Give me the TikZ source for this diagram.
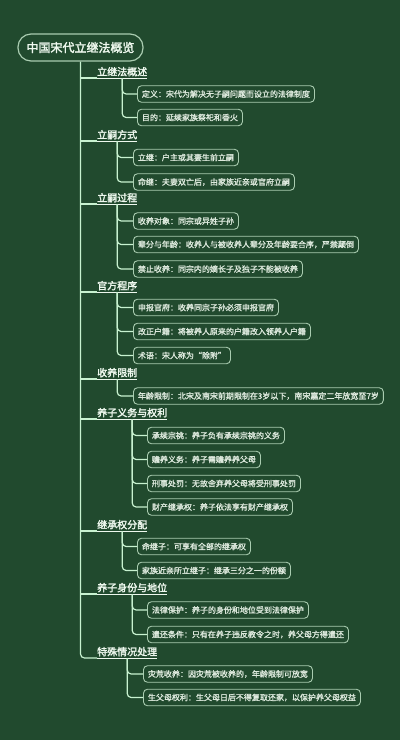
\documentclass[tikz,border=0pt]{standalone}
\usepackage{fontspec}
\newfontfamily\cjk{Noto Sans CJK SC}[FakeBold=2.2]
\newfontfamily\cjkl{Noto Sans CJK SC}[FakeBold=1.5]
\definecolor{bgc}{HTML}{214A2E}
\definecolor{linec}{HTML}{C8F2D0}
\definecolor{boxc}{HTML}{A9CCB0}
\definecolor{textc}{HTML}{DDE9DD}
\definecolor{headc}{HTML}{EEF8EE}
\tikzset{
  rootbox/.style={draw=boxc, line width=1.2pt, rounded corners=13pt, minimum width=125pt, minimum height=27pt, inner sep=0pt, text=headc, font=\cjk\fontsize{12}{12}\selectfont},
  headnode/.style={anchor=south west, inner xsep=0pt, inner ysep=1.5pt, text=headc, font=\cjk\fontsize{10}{10}\selectfont},
  uline/.style={draw=headc, line width=0.9pt},
  leaf/.style={anchor=west, draw=boxc, line width=0.9pt, rounded corners=4pt, minimum height=16.5pt, inner xsep=4.5pt, inner ysep=0pt, text=textc, font=\cjkl\fontsize{8}{8}\selectfont},
  conn/.style={draw=linec, line width=1.2pt},
  sub/.style={conn, rounded corners=4pt}
}
\begin{document}
\begin{tikzpicture}[x=1pt,y=-1pt]
\fill[bgc] (0,0) rectangle (400,740);
\useasboundingbox (0,0) rectangle (400,740);

\node[rootbox] (root) at (80.5,47.5) {中国宋代立继法概览};

% headings
\node[headnode] (h1) at (97,78) {立继法概述};
\node[headnode] (h2) at (97,141) {立嗣方式};
\node[headnode] (h3) at (97,204) {立嗣过程};
\node[headnode] (h4) at (97,292) {官方程序};
\node[headnode] (h5) at (97,379) {收养限制};
\node[headnode] (h6) at (97,419) {养子义务与权利};
\node[headnode] (h7) at (97,531) {继承权分配};
\node[headnode] (h8) at (97,594) {养子身份与地位};
\node[headnode] (h9) at (97,658) {特殊情况处理};
\foreach \h in {h1,h2,h3,h4,h5,h6,h7,h8,h9}{
  \draw[uline] (\h.south west) -- (\h.south east);
}

% main connectors
\draw[conn, rounded corners=4pt] (root.south) |- (h9.south west);
\foreach \h in {h1,h2,h3,h4,h5,h6,h7,h8}{
  \draw[conn] (root.south |- \h.south west) -- (\h.south west);
}

% leaves
\node[leaf] (c11) at (137,94) {定义：宋代为解决无子嗣问题而设立的法律制度};
\node[leaf] (c12) at (137,117.5) {目的：延续家族祭祀和香火};
\node[leaf] (c21) at (133,157.5) {立继：户主或其妻生前立嗣};
\node[leaf] (c22) at (133,182) {命继：夫妻双亡后，由家族近亲或官府立嗣};
\node[leaf] (c31) at (133,221) {收养对象：同宗或异姓子孙};
\node[leaf] (c32) at (133,244.5) {辈分与年龄：收养人与被收养人辈分及年龄要合序，严禁颠倒};
\node[leaf] (c33) at (133,269) {禁止收养：同宗内的嫡长子及独子不能被收养};
\node[leaf] (c41) at (133,307.5) {申报官府：收养同宗子孙必须申报官府};
\node[leaf] (c42) at (133,331.5) {改正户籍：将被养人原来的户籍改入领养人户籍};
\node[leaf] (c43) at (133,355.5) {术语：宋人称为“除附”};
\node[leaf] (c51) at (133,396) {年龄限制：北宋及南宋前期限制在3岁以下，南宋嘉定二年放宽至7岁};
\node[leaf] (c61) at (147,435.5) {承续宗祧：养子负有承续宗祧的义务};
\node[leaf] (c62) at (147,459.5) {赡养义务：养子需赡养养父母};
\node[leaf] (c63) at (147,483.5) {刑事处罚：无故舍弃养父母将受刑事处罚};
\node[leaf] (c64) at (147,507) {财产继承权：养子依法享有财产继承权};
\node[leaf] (c71) at (137,546.5) {命继子：可享有全部的继承权};
\node[leaf] (c72) at (137,570.5) {家族近亲所立继子：继承三分之一的份额};
\node[leaf] (c81) at (147,610) {法律保护：养子的身份和地位受到法律保护};
\node[leaf] (c82) at (147,634.5) {遣还条件：只有在养子违反教令之时，养父母方得遣还};
\node[leaf] (c91) at (143,674) {灾荒收养：因灾荒被收养的，年龄限制可放宽};
\node[leaf] (c92) at (143,697.5) {生父母权利：生父母日后不得复取还家，以保护养父母权益};

% sub connectors
\foreach \h/\c in {h1/c11,h1/c12,h2/c21,h2/c22,h3/c31,h3/c32,h3/c33,h4/c41,h4/c42,h4/c43,h5/c51,h6/c61,h6/c62,h6/c63,h6/c64,h7/c71,h7/c72,h8/c81,h8/c82,h9/c91,h9/c92}{
  \draw[sub] (\h.south) |- (\c.west);
}
\end{tikzpicture}
\end{document}
